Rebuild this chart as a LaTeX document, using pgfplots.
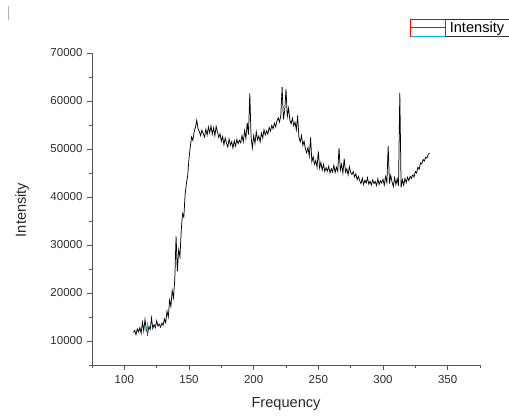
\documentclass[border=0pt]{standalone}
\usepackage{pgfplots}
\pgfplotsset{compat=1.18}
\usepackage{fontspec}
\setmainfont{Liberation Sans}
\definecolor{tickcol}{HTML}{2B2B3A}
\definecolor{axcol}{HTML}{555555}
\begin{document}
\begin{tikzpicture}[x=1pt,y=1pt]
\useasboundingbox (0,0) rectangle (509,418);
\draw[black!30, line width=0.8pt] (8,398) -- (8,412);
\begin{axis}[
  at={(92pt,53pt)}, anchor=south west,
  scale only axis, width=388pt, height=312pt,
  xmin=75, xmax=375, ymin=5000, ymax=70000,
  axis lines*=left,
  axis line style={axcol, line width=0.9pt},
  xtick={100,150,...,350}, minor xtick={75,125,...,375},
  ytick={10000,20000,...,70000}, minor ytick={5000,15000,...,65000},
  tick align=outside,
  major tick length=5pt, minor tick length=3pt,
  every tick/.style={axcol, line width=0.8pt},
  scaled y ticks=false,
  /pgf/number format/set thousands separator={},
  /pgf/number format/assume math mode=true,
  ticklabel style={font=\fontsize{11.5}{13}\selectfont, text=tickcol},
  yticklabel style={xshift=-1pt},
  xticklabel style={yshift=-2pt},
  xlabel={Frequency}, ylabel={Intensity},
  label style={font=\fontsize{14.6}{16}\selectfont, text=black!85},
  xlabel style={at={(axis description cs:0.5,-0.125)}, anchor=center},
  ylabel style={at={(axis description cs:-0.18,0.497)}, anchor=center, rotate=0},
  legend style={at={(axis description cs:0.8196,1.109)}, anchor=north west,
    draw=black!80, line width=0.8pt, inner sep=0pt, outer sep=0pt,
    font=\fontsize{14.6}{16}\selectfont, fill=white,
    legend cell align=left},
  legend image code/.code={
    \draw[red, line width=0.8pt] (0pt,-8.5pt) rectangle (35pt,8.5pt);
    \draw[cyan, line width=0.6pt] (1pt,-8pt) -- (35pt,-8pt);
    \draw[black!70, line width=0.8pt] (0pt,0pt) -- (35pt,0pt);
  },
]
\addplot[black, line width=0.75pt, mark=none] coordinates {
(107,11800) (108,12200) (109,11300) (110,12500) (111,11900) (112,12800) (113,11600) (114,13900) (115,12100) (116,14500)
(117,12300) (118,11500) (119,13000) (120,12400) (121,14800) (122,12600) (123,13400) (124,12800) (125,14200) (126,13100)
(127,13500) (128,12900) (129,13700) (130,13300) (131,14600) (132,13800) (133,16200) (134,15000) (135,18500) (136,17200)
(137,20500) (138,19000) (139,22800) (140,31800) (141,24500) (142,29000) (143,27500) (144,33000) (145,36500) (146,35800)
(147,40500) (148,42800) (149,44500) (150,48000) (151,50500) (152,52500) (153,51800) (154,53600) (155,54500) (156,56000)
(157,54200) (158,53600) (159,52800) (160,53900) (161,53200) (162,52500) (163,54100) (164,52900) (165,54600) (166,53400)
(167,54800) (168,53100) (169,54400) (170,52800) (171,54700) (172,53500) (173,52400) (174,53200) (175,51600) (176,52600)
(177,50900) (178,52300) (179,51200) (180,50400) (181,52100) (182,50800) (183,51500) (184,50200) (185,51700) (186,50600)
(187,52000) (188,51100) (189,51800) (190,51300) (191,52800) (192,51500) (193,53800) (194,52200) (195,55500) (196,53000)
(197,61600) (198,52500) (199,50200) (200,52800) (201,51200) (202,53600) (203,51900) (204,52700) (205,51500) (206,53300)
(207,52300) (208,54000) (209,52900) (210,53800) (211,53100) (212,54500) (213,53700) (214,54900) (215,54200) (216,55400)
(217,54600) (218,55800) (219,56500) (220,55600) (221,57000) (222,62900) (223,56200) (224,58000) (225,62500) (226,56800)
(227,58500) (228,56000) (229,55300) (230,56400) (231,54800) (232,55600) (233,54000) (234,57000) (235,52400) (236,51500)
(237,52800) (238,50800) (239,51600) (240,50000) (241,49200) (242,50300) (243,48500) (244,52400) (245,47300) (246,48400)
(247,46800) (248,47600) (249,46200) (250,49500) (251,46000) (252,47200) (253,45600) (254,46800) (255,45300) (256,46100)
(257,45400) (258,46400) (259,45000) (260,45900) (261,45200) (262,46600) (263,45100) (264,46200) (265,45400) (266,50200)
(267,45600) (268,46800) (269,45000) (270,48000) (271,45200) (272,45900) (273,44600) (274,46300) (275,45100) (276,44700)
(277,45300) (278,44200) (279,44800) (280,43600) (281,44300) (282,43400) (283,42800) (284,43900) (285,42600) (286,43500)
(287,42900) (288,44000) (289,42700) (290,43300) (291,42500) (292,43600) (293,42800) (294,43200) (295,42400) (296,43800)
(297,42600) (298,43400) (299,42900) (300,43700) (301,42500) (302,44200) (303,43000) (304,50600) (305,42800) (306,44500)
(307,43100) (308,42200) (309,44000) (310,42600) (311,43800) (312,42300) (313,61700) (314,42000) (315,43600) (316,42500)
(317,43900) (318,43000) (319,44100) (320,43400) (321,44300) (322,43900) (323,44600) (324,44200) (325,45300) (326,45000)
(327,46200) (328,45800) (329,47100) (330,46900) (331,47800) (332,47500) (333,48300) (334,48100) (335,48900) (336,49100)
};
\addlegendentry{\hspace{2pt}Intensity\hspace*{24pt}\mbox{}}
\addplot[cyan, line width=0.8pt, forget plot] coordinates {(116.5,12300) (117.5,12900) (118.5,12300)};
\addplot[cyan, line width=0.8pt, forget plot] coordinates {(117.5,12300) (117.5,14000)};
\addplot[red, line width=0.8pt, forget plot] coordinates {(118,11000) (118,12000)};
\end{axis}
\end{tikzpicture}
\end{document}
